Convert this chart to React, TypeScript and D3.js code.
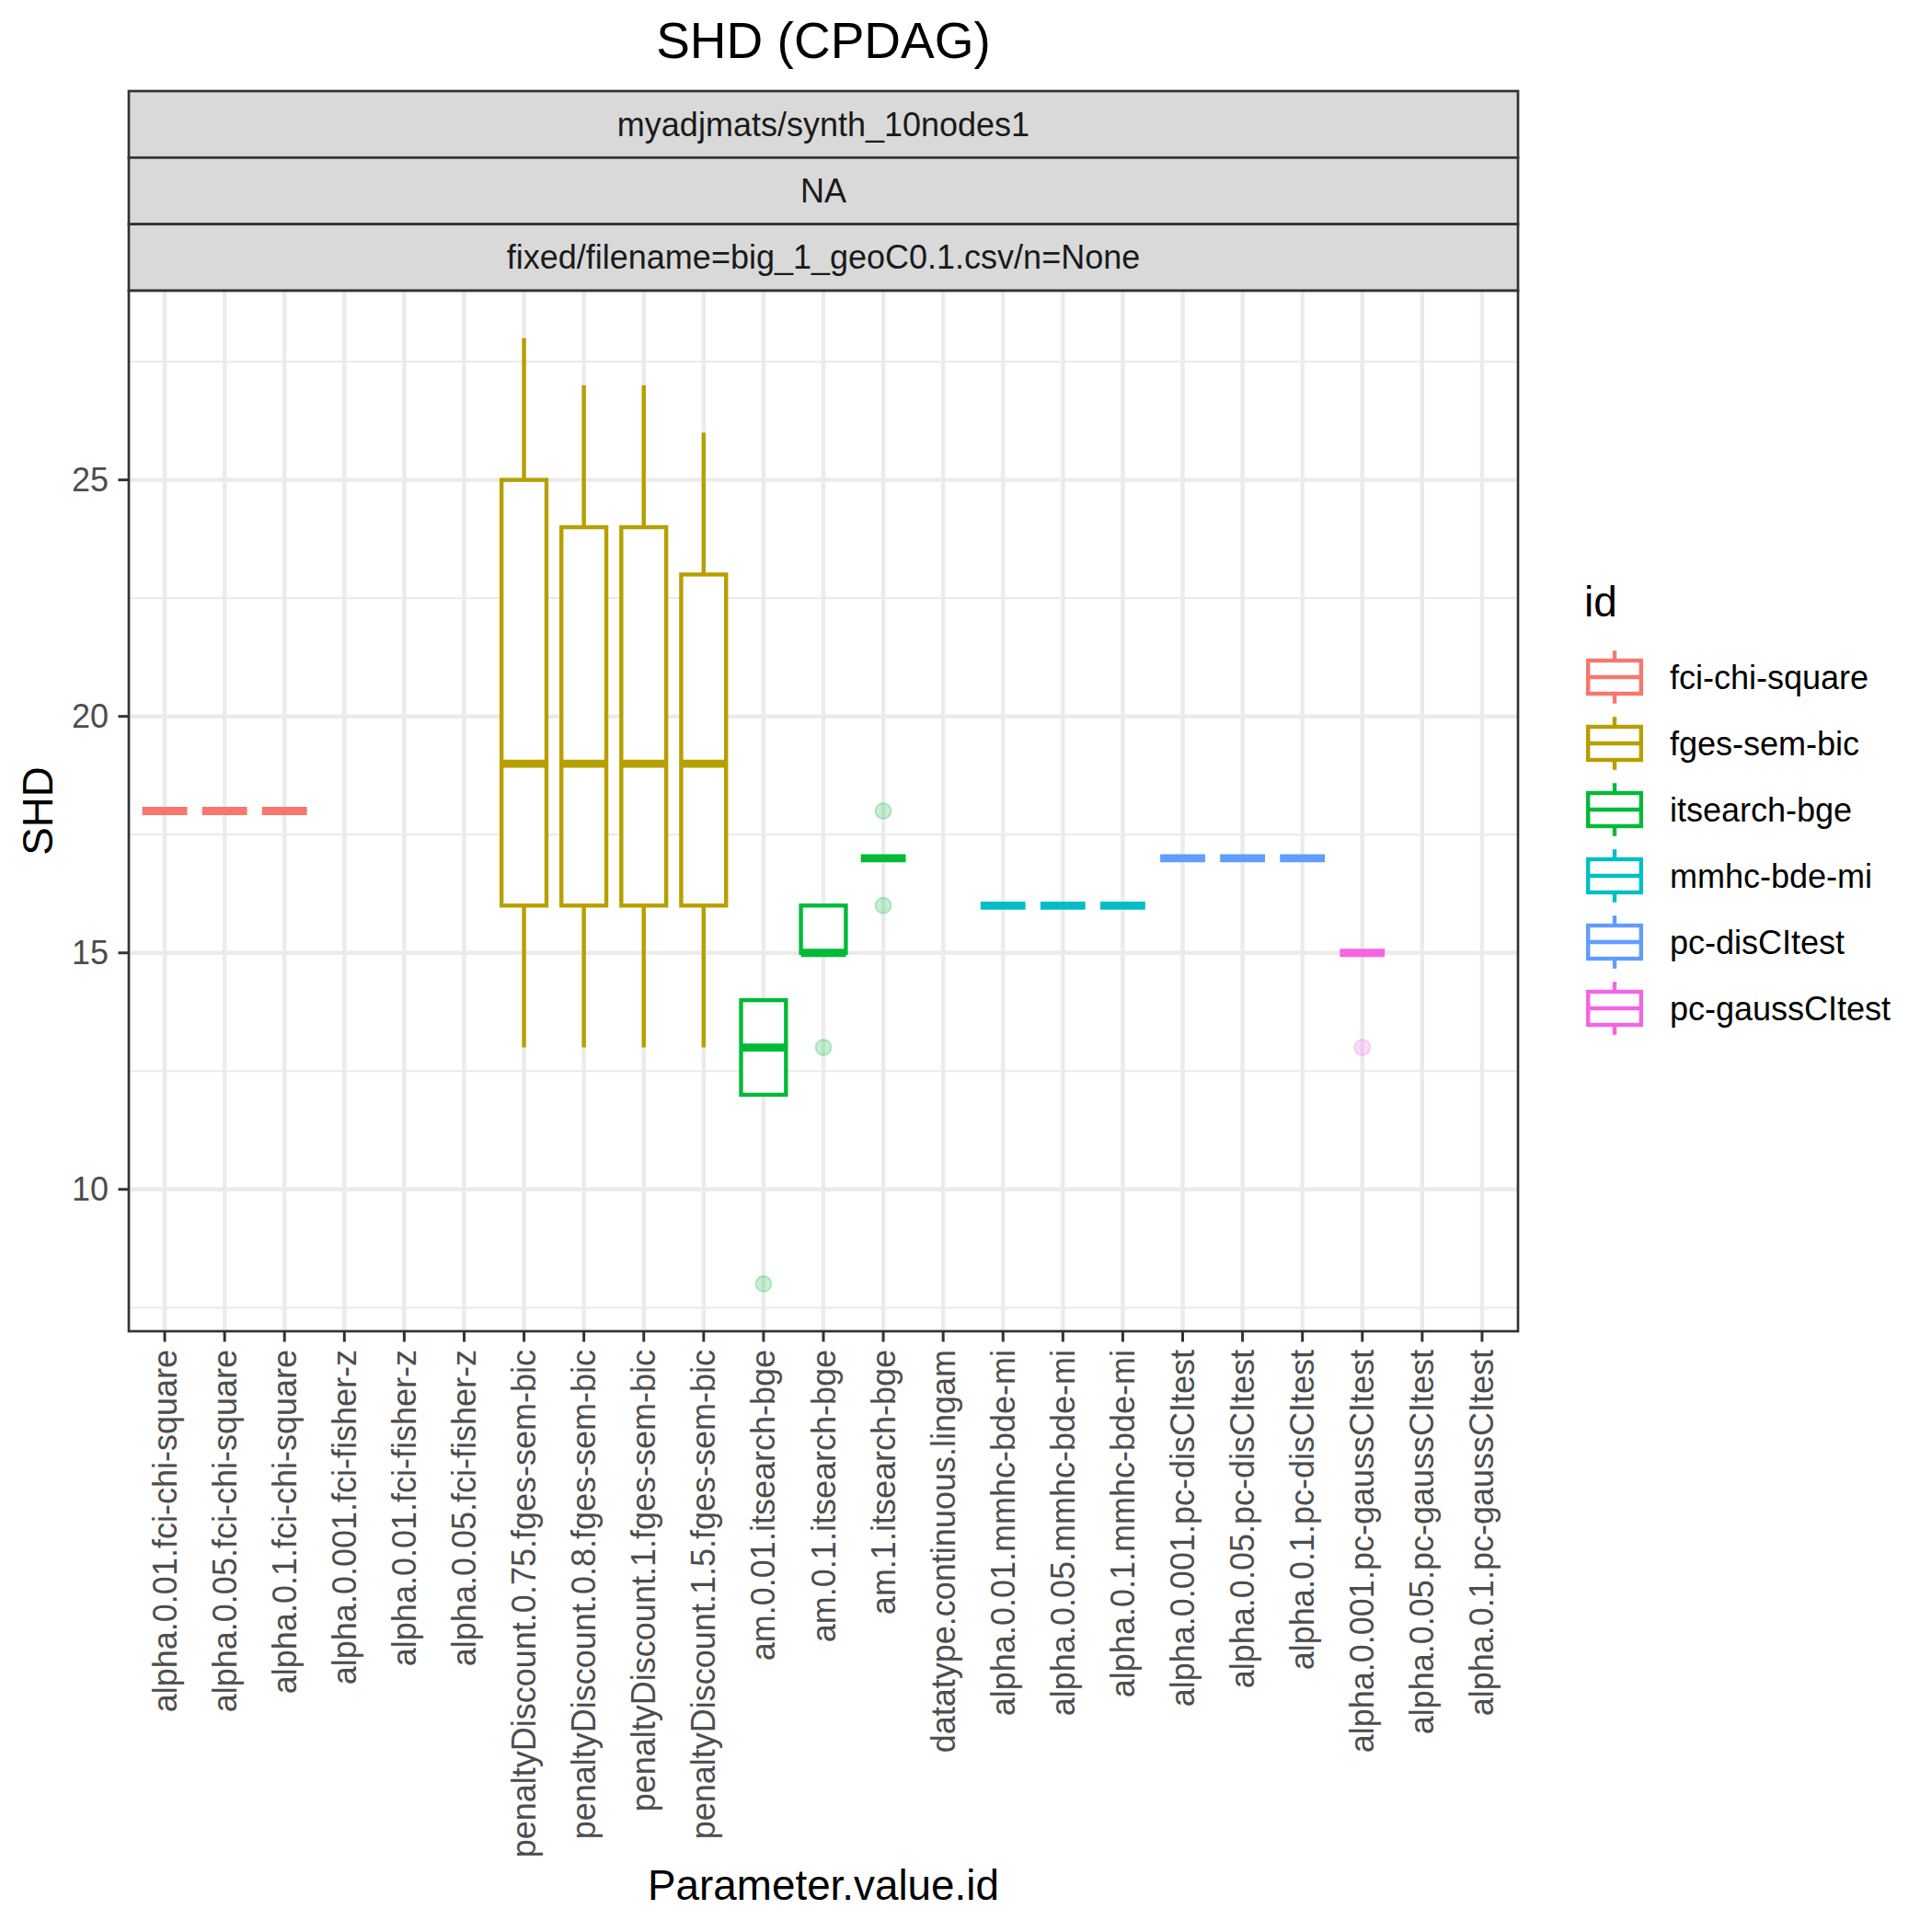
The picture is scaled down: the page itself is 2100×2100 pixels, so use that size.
import React from "react";
import * as d3 from "d3";

// categories on the x axis, in order
const categories = [
  "alpha.0.01.fci-chi-square",
  "alpha.0.05.fci-chi-square",
  "alpha.0.1.fci-chi-square",
  "alpha.0.001.fci-fisher-z",
  "alpha.0.01.fci-fisher-z",
  "alpha.0.05.fci-fisher-z",
  "penaltyDiscount.0.75.fges-sem-bic",
  "penaltyDiscount.0.8.fges-sem-bic",
  "penaltyDiscount.1.fges-sem-bic",
  "penaltyDiscount.1.5.fges-sem-bic",
  "am.0.01.itsearch-bge",
  "am.0.1.itsearch-bge",
  "am.1.itsearch-bge",
  "datatype.continuous.lingam",
  "alpha.0.01.mmhc-bde-mi",
  "alpha.0.05.mmhc-bde-mi",
  "alpha.0.1.mmhc-bde-mi",
  "alpha.0.001.pc-disCItest",
  "alpha.0.05.pc-disCItest",
  "alpha.0.1.pc-disCItest",
  "alpha.0.001.pc-gaussCItest",
  "alpha.0.05.pc-gaussCItest",
  "alpha.0.1.pc-gaussCItest",
];

const ids = [
  "fci-chi-square",
  "fges-sem-bic",
  "itsearch-bge",
  "mmhc-bde-mi",
  "pc-disCItest",
  "pc-gaussCItest",
];
const idColors = ["#F8766D", "#B79F00", "#00BA38", "#00BFC4", "#619CFF", "#F564E3"];

// which id each category belongs to (null = no data)
const catId = [0, 0, 0, null, null, null, 1, 1, 1, 1, 2, 2, 2, null, 3, 3, 3, 4, 4, 4, 5, null, null];

// boxplot stats per category
const whiskerLow = [18, 18, 18, null, null, null, 13, 13, 13, 13, 12, 15, 17, null, 16, 16, 16, 17, 17, 17, 15, null, null];
const q1 = [18, 18, 18, null, null, null, 16, 16, 16, 16, 12, 15, 17, null, 16, 16, 16, 17, 17, 17, 15, null, null];
const median = [18, 18, 18, null, null, null, 19, 19, 19, 19, 13, 15, 17, null, 16, 16, 16, 17, 17, 17, 15, null, null];
const q3 = [18, 18, 18, null, null, null, 25, 24, 24, 23, 14, 16, 17, null, 16, 16, 16, 17, 17, 17, 15, null, null];
const whiskerHigh = [18, 18, 18, null, null, null, 28, 27, 27, 26, 14, 16, 17, null, 16, 16, 16, 17, 17, 17, 15, null, null];
const outliers: number[][] = [
  [], [], [], [], [], [], [], [], [], [],
  [8], [13], [18, 16], [], [], [], [], [], [], [], [13], [], [],
];

const yTicks = [10, 15, 20, 25];
const yMinor = [7.5, 12.5, 17.5, 22.5, 27.5];
const stripLabels = ["myadjmats/synth_10nodes1", "NA", "fixed/filename=big_1_geoC0.1.csv/n=None"];

const FONT = "'Liberation Sans', Arial, Helvetica, sans-serif";

export default function App() {
  const W = 2100;
  const H = 2100;
  const panel = { left: 140, right: 1650, top: 316, bottom: 1447 };
  const stripTop = 99;
  const stripH = (panel.top - stripTop) / 3;

  const x = d3.scalePoint<string>().domain(categories).range([panel.left, panel.right]).padding(0.6);
  const step = x.step();
  const y = d3.scaleLinear().domain([7, 29]).range([panel.bottom, panel.top]);
  const boxW = step * 0.75;
  const lw = 4.4;
  const cx = (panel.left + panel.right) / 2;
  const axisFs = 36;

  const legendX = 1719;
  const keySize = 72;
  const legendKeyTop = 700;

  return (
    <svg width={W} height={H} style={{ position: "absolute", left: 0, top: 0, background: "#fff" }} fontFamily={FONT}>
      <rect x={0} y={0} width={W} height={H} fill="#fff" />
      {/* title */}
      <text x={cx} y={63} textAnchor="middle" fontSize={55} fill="#000">SHD (CPDAG)</text>

      {/* strips */}
      {stripLabels.map((s, i) => (
        <g key={s}>
          <rect x={panel.left} y={stripTop + i * stripH} width={panel.right - panel.left} height={stripH}
            fill="#D9D9D9" stroke="#333333" strokeWidth={2.7} />
          <text x={cx} y={stripTop + i * stripH + stripH / 2} textAnchor="middle" dominantBaseline="central"
            fontSize={axisFs} fill="#1A1A1A">{s}</text>
        </g>
      ))}

      {/* panel grid */}
      <rect x={panel.left} y={panel.top} width={panel.right - panel.left} height={panel.bottom - panel.top} fill="#fff" />
      {yMinor.map((v) => (
        <line key={"mn" + v} x1={panel.left} x2={panel.right} y1={y(v)} y2={y(v)} stroke="#EBEBEB" strokeWidth={2.2} />
      ))}
      {yTicks.map((v) => (
        <line key={"mj" + v} x1={panel.left} x2={panel.right} y1={y(v)} y2={y(v)} stroke="#EBEBEB" strokeWidth={lw} />
      ))}
      {categories.map((c) => (
        <line key={"gx" + c} x1={x(c)} x2={x(c)} y1={panel.top} y2={panel.bottom} stroke="#EBEBEB" strokeWidth={lw} />
      ))}

      {/* boxplots */}
      {categories.map((c, i) => {
        const g = catId[i];
        if (g === null || median[i] === null) return null;
        const col = idColors[g];
        const px = x(c) as number;
        return (
          <g key={"b" + c}>
            <line x1={px} x2={px} y1={y(q3[i] as number)} y2={y(whiskerHigh[i] as number)} stroke={col} strokeWidth={lw} />
            <line x1={px} x2={px} y1={y(q1[i] as number)} y2={y(whiskerLow[i] as number)} stroke={col} strokeWidth={lw} />
            <rect x={px - boxW / 2} y={y(q3[i] as number)} width={boxW}
              height={y(q1[i] as number) - y(q3[i] as number)} fill="#fff" stroke={col} strokeWidth={lw} />
            <line x1={px - boxW / 2} x2={px + boxW / 2} y1={y(median[i] as number)} y2={y(median[i] as number)}
              stroke={col} strokeWidth={lw * 2} />
            {outliers[i].map((v, k) => (
              <circle key={k} cx={px} cy={y(v)} r={8.5} fill={col} fillOpacity={0.22}
                stroke={col} strokeOpacity={0.25} strokeWidth={2} />
            ))}
          </g>
        );
      })}

      {/* panel border */}
      <rect x={panel.left} y={panel.top} width={panel.right - panel.left} height={panel.bottom - panel.top}
        fill="none" stroke="#333333" strokeWidth={2.7} />

      {/* y axis */}
      {yTicks.map((v) => (
        <g key={"yt" + v}>
          <line x1={panel.left - 11.5} x2={panel.left} y1={y(v)} y2={y(v)} stroke="#333333" strokeWidth={3} />
          <text x={panel.left - 22} y={y(v)} textAnchor="end" dominantBaseline="central" fontSize={axisFs} fill="#4D4D4D">{v}</text>
        </g>
      ))}
      <text transform={`translate(57,${(panel.top + panel.bottom) / 2}) rotate(-90)`} textAnchor="middle"
        fontSize={45.8} fill="#000">SHD</text>

      {/* x axis */}
      {categories.map((c) => (
        <g key={"xt" + c}>
          <line x1={x(c)} x2={x(c)} y1={panel.bottom} y2={panel.bottom + 11.5} stroke="#333333" strokeWidth={3} />
          <text transform={`translate(${x(c)},${panel.bottom + 20}) rotate(-90)`} textAnchor="end"
            dominantBaseline="central" fontSize={axisFs} fill="#4D4D4D">{c}</text>
        </g>
      ))}
      <text x={cx} y={2065} textAnchor="middle" fontSize={45.8} fill="#000">Parameter.value.id</text>

      {/* legend */}
      <text x={legendX + 3} y={670} fontSize={45.8} fill="#000">id</text>
      {ids.map((id, i) => {
        const ky = legendKeyTop + i * keySize;
        const kx = legendX;
        const col = idColors[i];
        return (
          <g key={id}>
            <line x1={kx + keySize / 2} x2={kx + keySize / 2} y1={ky + keySize * 0.1} y2={ky + keySize * 0.9} stroke={col} strokeWidth={lw} />
            <rect x={kx + keySize * 0.1} y={ky + keySize * 0.25} width={keySize * 0.8} height={keySize * 0.5}
              fill="#fff" stroke={col} strokeWidth={lw} />
            <line x1={kx + keySize * 0.1} x2={kx + keySize * 0.9} y1={ky + keySize / 2} y2={ky + keySize / 2} stroke={col} strokeWidth={lw} />
            <text x={1815} y={ky + keySize / 2} dominantBaseline="central" fontSize={axisFs} fill="#000">{id}</text>
          </g>
        );
      })}
    </svg>
  );
}
